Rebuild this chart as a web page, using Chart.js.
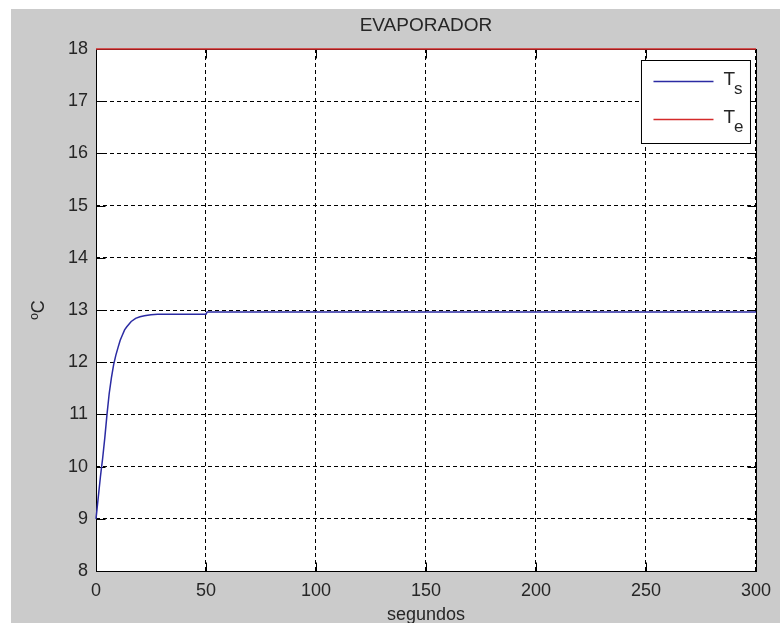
<!DOCTYPE html>
<html>
<head>
<meta charset="utf-8">
<script src="https://cdn.jsdelivr.net/npm/chart.js@4.4.1/dist/chart.umd.min.js"></script>
<style>
  html, body { margin: 0; padding: 0; background: #ffffff; }
  #grafico { display: block; }
</style>
</head>
<body>
<canvas id="grafico" width="780" height="623"></canvas>
<script>
// Dados
const tempoTs = [0, 0.5, 1, 1.5, 2, 2.5, 3, 4, 5, 6, 7, 8, 9, 10, 11, 12, 13, 14, 16, 18, 20, 22, 25, 28, 32, 50, 50.5, 300];
const valoresTs = [9.0, 9.2, 9.4, 9.6, 9.8, 9.98, 10.15, 10.55, 11.0, 11.4, 11.7, 11.95, 12.13, 12.28, 12.42, 12.52, 12.62, 12.68, 12.78, 12.84, 12.87, 12.89, 12.91, 12.92, 12.92, 12.92, 12.96, 12.96];
const tempoTe = [0, 300];
const valoresTe = [18, 18];

const ticksX = [0, 50, 100, 150, 200, 250, 300];
const ticksY = [8, 9, 10, 11, 12, 13, 14, 15, 16, 17, 18];

const titulo = "EVAPORADOR";
const tituloX = "segundos";
const tituloY = "ºC";
const nomesSeries = ["T_s", "T_e"];

const fonte = "'Liberation Sans', Arial, sans-serif";
const corTexto = "#262626";

// Fundo cinza estilo MATLAB
const fundoFigura = {
  id: "fundoFigura",
  beforeDraw(chart) {
    const { ctx, chartArea } = chart;
    ctx.save();
    ctx.fillStyle = "#ffffff";
    ctx.fillRect(0, 0, chart.width, chart.height);
    ctx.fillStyle = "#cbcbcb";
    ctx.fillRect(11, 9, chart.width - 11, chart.height - 9);
    ctx.fillStyle = "#ffffff";
    ctx.fillRect(chartArea.left, chartArea.top, chartArea.right - chartArea.left, chartArea.bottom - chartArea.top);
    ctx.restore();
  },
  beforeDatasetsDraw(chart) {
    // moldura e marcas de escala para dentro
    const { ctx, chartArea, scales } = chart;
    const L = Math.round(chartArea.left) + 0.5, R = Math.round(chartArea.right) + 0.5;
    const T = Math.round(chartArea.top) + 0.5, B = Math.round(chartArea.bottom) + 0.5;
    const tam = 9;
    ctx.save();
    ctx.setLineDash([]);
    ctx.strokeStyle = "#000000";
    ctx.lineWidth = 1;
    ctx.strokeRect(L, T, R - L, B - T);
    ctx.beginPath();
    ticksX.forEach((v) => {
      const px = Math.round(scales.x.getPixelForValue(v)) + 0.5;
      ctx.moveTo(px, B); ctx.lineTo(px, B - tam);
      ctx.moveTo(px, T); ctx.lineTo(px, T + tam);
    });
    ticksY.forEach((v) => {
      const py = Math.round(scales.y.getPixelForValue(v)) + 0.5;
      ctx.moveTo(L, py); ctx.lineTo(L + tam, py);
      ctx.moveTo(R, py); ctx.lineTo(R - tam, py);
    });
    ctx.stroke();
    ctx.restore();
  },
};

// Legenda com subscrito
const legendaMatlab = {
  id: "legendaMatlab",
  afterDraw(chart) {
    const { ctx, chartArea } = chart;
    const caixa = { x: chartArea.right - 114.5, y: chartArea.top + 11.5, w: 109, h: 83 };
    ctx.save();
    ctx.fillStyle = "#ffffff";
    ctx.fillRect(caixa.x, caixa.y, caixa.w, caixa.h);
    ctx.strokeStyle = "#000000";
    ctx.lineWidth = 1;
    ctx.strokeRect(caixa.x, caixa.y, caixa.w, caixa.h);
    chart.data.datasets.forEach((ds, i) => {
      const y = caixa.y + 21 + i * 38;
      ctx.strokeStyle = ds.borderColor;
      ctx.lineWidth = 1.5;
      ctx.beginPath();
      ctx.moveTo(caixa.x + 12, y);
      ctx.lineTo(caixa.x + 72, y);
      ctx.stroke();
      const [base, sub] = ds.label.split("_");
      ctx.fillStyle = corTexto;
      ctx.textBaseline = "alphabetic";
      ctx.font = "19px " + fonte;
      ctx.fillText(base, caixa.x + 82, y + 3);
      const w = ctx.measureText(base).width;
      ctx.font = "17px " + fonte;
      ctx.fillText(sub, caixa.x + 82 + w - 1, y + 12);
    });
    ctx.restore();
  },
};

const ctx = document.getElementById("grafico").getContext("2d");

new Chart(ctx, {
  type: "line",
  data: {
    datasets: [
      {
        label: nomesSeries[0],
        data: tempoTs.map((t, i) => ({ x: t, y: valoresTs[i] })),
        borderColor: "#2b2ba3",
        borderWidth: 1.5,
        pointRadius: 0,
        tension: 0,
        clip: 3,
      },
      {
        label: nomesSeries[1],
        data: tempoTe.map((t, i) => ({ x: t, y: valoresTe[i] })),
        borderColor: "#d42a2a",
        borderWidth: 1.5,
        pointRadius: 0,
        tension: 0,
        clip: 3,
      },
    ],
  },
  options: {
    responsive: false,
    animation: false,
    layout: { padding: { left: 0, right: 21, top: 0, bottom: 0 } },
    plugins: {
      legend: { display: false },
      tooltip: { enabled: false },
      title: {
        display: true,
        text: titulo,
        fullSize: false,
        color: corTexto,
        font: { family: fonte, size: 19, weight: "normal", lineHeight: 1.2 },
        padding: { top: 14, bottom: 12.2 },
      },
    },
    scales: {
      x: {
        type: "linear",
        min: 0,
        max: 300,
        afterBuildTicks: (escala) => { escala.ticks = ticksX.map((v) => ({ value: v })); },
        afterFit: (escala) => { escala.height = 52; },
        ticks: { color: corTexto, padding: 9, maxRotation: 0, font: { family: fonte, size: 18 } },
        grid: { color: "#000000", lineWidth: 1, drawTicks: false },
        border: { display: false, dash: [4, 3] },
        title: {
          display: true,
          text: tituloX,
          color: corTexto,
          padding: { top: 0, bottom: -3 },
          font: { family: fonte, size: 18 },
        },
      },
      y: {
        type: "linear",
        min: 8,
        max: 18,
        afterBuildTicks: (escala) => { escala.ticks = ticksY.map((v) => ({ value: v })); },
        afterFit: (escala) => { escala.width = 96; },
        ticks: { color: corTexto, padding: 8, font: { family: fonte, size: 18 } },
        grid: { color: "#000000", lineWidth: 1, drawTicks: false },
        border: { display: false, dash: [4, 3] },
        title: {
          display: true,
          text: tituloY,
          color: corTexto,
          padding: { top: 28, bottom: 0 },
          font: { family: fonte, size: 18 },
        },
      },
    },
  },
  plugins: [fundoFigura, legendaMatlab],
});
</script>
</body>
</html>
